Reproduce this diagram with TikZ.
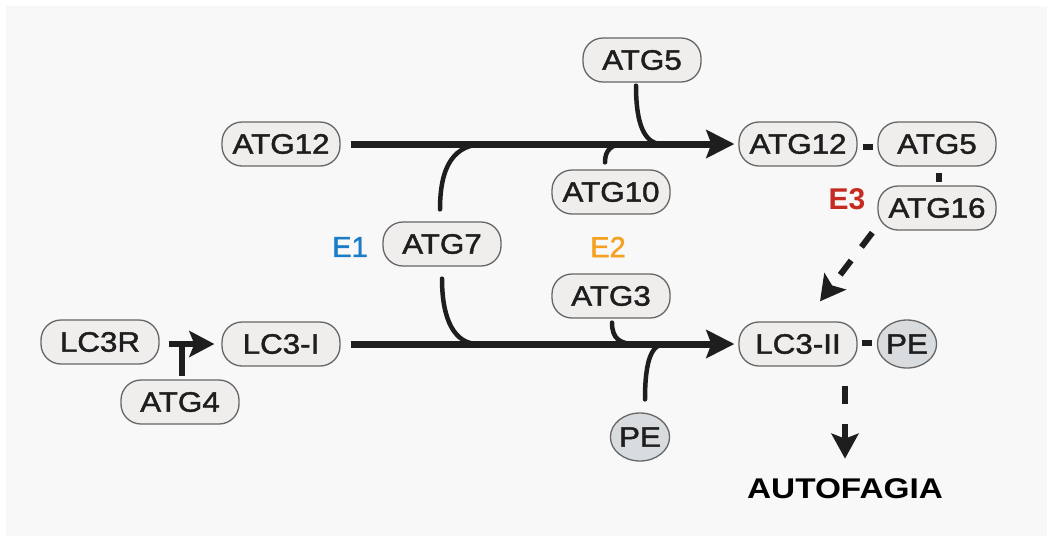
\documentclass[tikz,border=0pt]{standalone}
\usepackage{fontspec}
\setmainfont{Liberation Sans}
\newfontfamily\labfont[FakeStretch=1.12,FakeBold=1.6]{Liberation Sans}
\newfontfamily\efont[FakeBold=1.2]{Liberation Sans}
\newfontfamily\autofont[FakeStretch=1.17]{Liberation Sans}
\usetikzlibrary{arrows.meta,shapes.geometric,calc}
\definecolor{bg}{HTML}{F8F8F8}
\definecolor{boxfill}{HTML}{F0EEEC}
\definecolor{pefill}{HTML}{D9DCDF}
\definecolor{boxdraw}{HTML}{666666}
\definecolor{ink}{HTML}{1E1E1E}
\definecolor{eone}{HTML}{1A7DC6}
\definecolor{etwo}{HTML}{F5A01E}
\definecolor{ethree}{HTML}{C52B1F}
\begin{document}
\begin{tikzpicture}[x=1pt,y=-1pt,
  prot/.style={draw=boxdraw, line width=1.3pt, fill=boxfill, rounded corners=20pt,
    minimum width=118pt, minimum height=44pt, inner sep=0pt,
    font=\labfont\fontsize{28}{30}\selectfont, text=ink},
  lipid/.style={ellipse, draw=boxdraw, line width=1.3pt, fill=pefill,
    minimum width=56pt, minimum height=48pt, inner sep=0pt,
    font=\labfont\fontsize{28}{30}\selectfont, text=ink},
  elabel/.style={font=\efont\fontsize{29}{31}\selectfont, inner sep=0pt},
  mainarrow/.style={line width=7pt, draw=ink, -{Stealth[length=28pt,width=28pt,inset=5pt]}},
  smallarrow/.style={line width=6pt, draw=ink, -{Stealth[length=25pt,width=26pt,inset=5pt]}},
  feed/.style={line width=4.5pt, draw=ink, line cap=round},
  bondline/.style={line width=6pt, draw=ink},
  dasharrow/.style={line width=6pt, draw=ink, dash pattern=on 18pt off 17pt,
    -{Stealth[length=25pt,width=27pt,inset=5pt]}}
]
\useasboundingbox (0,0) rectangle (1053,542);
\fill[white] (0,0) rectangle (1053,542);
\fill[bg] (6,6) rectangle (1047,536);

% nodes
\node[prot] (atg5top) at (642,60) {ATG5};
\node[prot] (atg12l) at (281,144) {ATG12};
\node[prot] (atg12r) at (798,144) {ATG12};
\node[prot] (atg5r) at (937,144) {ATG5};
\node[prot] (atg10) at (611,192) {ATG10};
\node[prot] (atg16) at (937,208) {ATG16};
\node[prot] (atg7) at (442,244) {ATG7};
\node[prot] (atg3) at (611,296) {ATG3};
\node[prot] (lc3r) at (100,342) {LC3R};
\node[prot] (lc3i) at (281,344) {LC3-I};
\node[prot] (lc3ii) at (798,344) {LC3-II};
\node[lipid] (per) at (907,344) {PE};
\node[prot] (atg4) at (180,402) {ATG4};
\node[lipid] (peb) at (640,437) {PE};
\node[elabel, text=eone] (e1) at (350,247) {E1};
\node[elabel, text=etwo] (e2) at (608,247) {E2};
\node[elabel, text=ethree, font=\bfseries\fontsize{30}{32}\selectfont] (e3) at (847,199) {E3};
\node[font=\autofont\bfseries\fontsize{28.5}{30}\selectfont, inner sep=0pt] (auto) at (845,489) {AUTOFAGIA};

% main arrows
\draw[mainarrow] ($(atg12l.east)+(10,0)$) -- ($(atg12r.west)+(-4,0)$);
\draw[mainarrow] ($(lc3i.east)+(10,0)$) -- ($(lc3ii.west)+(-4,0)$);

% feeding curves
\coordinate (t7) at ($(atg7.north |- atg12l.east)+(43,0)$);
\draw[feed] ($(atg7.north)+(-2,-12)$) .. controls ($(atg7.north)+(-2,-57)$) and ($(t7)+(-30,0)$) .. (t7);
\coordinate (b7) at ($(atg7.south |- lc3i.east)+(36,0)$);
\draw[feed] ($(atg7.south)+(0,12)$) .. controls ($(atg7.south)+(0,54)$) and ($(b7)+(-23,0)$) .. (b7);
\coordinate (t5) at ($(atg5top.south |- atg12l.east)+(20,0)$);
\draw[feed] ($(atg5top.south)+(-6,3)$) .. controls ($(atg5top.south)+(-6,43)$) and ($(t5)+(-17,0)$) .. (t5);
\coordinate (t10) at ($(atg10.north |- atg12l.east)+(14,0)$);
\draw[feed] ($(atg10.north)+(-6,-7)$) .. controls ($(atg10.north)+(-6,-20)$) and ($(t10)+(-13,0)$) .. (t10);
\coordinate (b3) at ($(atg3.south |- lc3i.east)+(24,0)$);
\draw[feed] ($(atg3.south)+(1,4)$) .. controls ($(atg3.south)+(1,20)$) and ($(b3)+(-15,0)$) .. (b3);
\coordinate (bpe) at ($(peb.north |- lc3i.east)+(25,0)$);
\draw[feed] ($(peb.north)+(5,-13)$) .. controls ($(peb.north)+(5,-53)$) and ($(bpe)+(-13,0)$) .. (bpe);

% LC3R -> LC3-I with ATG4
\draw[smallarrow] ($(lc3r.east)+(9,2)$) -- ($(lc3i.west)+(-7,0)$);
\draw[line width=6pt, draw=ink] ($(atg4.north)+(2,-3)$) -- ($(atg4.north |- lc3r.east)+(2,2)$);

% bonds
\draw[bondline] ($(atg12r.east)+(5,3)$) -- ($(atg5r.west)+(-4,3)$);
\draw[bondline] ($(atg5r.south)+(2,6)$) -- ($(atg16.north)+(2,-3)$);
\draw[bondline] ($(lc3ii.east)+(4,-1)$) -- ($(per.west)+(-5,-1)$);

% dashed arrows
\draw[dasharrow] ($(atg16.south west)+(-5,2)$) -- ($(lc3ii.north)+(22,-20)$);
\coordinate (d1) at ($(lc3ii.south)+(47,19)$);
\draw[dasharrow, dash pattern=on 18pt off 20pt] (d1) -- ($(auto.north |- d1)+(0,73)$);
\end{tikzpicture}
\end{document}
